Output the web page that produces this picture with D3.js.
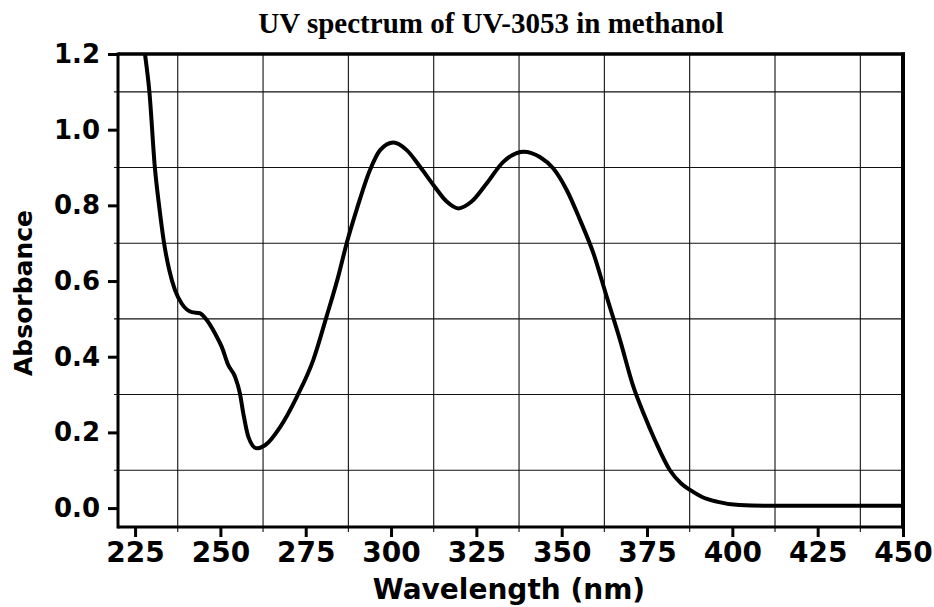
<!DOCTYPE html>
<html>
<head>
<meta charset="utf-8">
<script src="https://cdn.jsdelivr.net/npm/d3@7"></script>
<style>
  html, body { margin: 0; padding: 0; background: #fff; }
  svg { display: block; }
</style>
</head>
<body>
<svg id="chart" width="934" height="607"></svg>
<script>
// ---- data ----
const wavelength = [227.6, 227.9, 229.2, 230.8, 232.1, 233.5, 235.0, 236.7, 238.7, 241.6, 244.0, 246.0, 248.4, 250.4, 252.3, 254.3, 255.7, 256.7, 258.2, 260.6, 263.1, 267.5, 272.4, 277.2, 281.1, 284.5, 287.0, 289.9, 293.8, 296.8, 300.7, 304.6, 308.5, 312.4, 316.3, 319.7, 323.6, 328.0, 332.9, 338.8, 343.6, 347.5, 351.5, 355.4, 359.3, 363.2, 367.1, 371.0, 374.0, 377.3, 381.7, 385.0, 387.6, 391.0, 395.4, 402.0, 410.0, 450.0];
const absorbance = [1.22, 1.20, 1.10, 0.90, 0.795, 0.70, 0.63, 0.576, 0.54, 0.518, 0.515, 0.497, 0.462, 0.426, 0.378, 0.347, 0.304, 0.251, 0.188, 0.158, 0.166, 0.214, 0.294, 0.391, 0.506, 0.611, 0.70, 0.788, 0.893, 0.946, 0.966, 0.946, 0.902, 0.854, 0.810, 0.792, 0.810, 0.858, 0.915, 0.942, 0.928, 0.898, 0.840, 0.761, 0.673, 0.558, 0.444, 0.321, 0.25, 0.18, 0.10, 0.065, 0.048, 0.03, 0.017, 0.008, 0.006, 0.006];
const xTicks = [225, 250, 275, 300, 325, 350, 375, 400, 425, 450];
const xGrid = [237.5, 262.5, 287.5, 312.5, 337.5, 362.5, 387.5, 412.5, 437.5];
const yTicks = [0.0, 0.2, 0.4, 0.6, 0.8, 1.0, 1.2];
const yGrid = [0.1, 0.3, 0.5, 0.7, 0.9, 1.1];
const titleText = "UV spectrum of UV-3053 in methanol";
const xLabel = "Wavelength (nm)";
const yLabel = "Absorbance";

// ---- layout ----
const L = 118, R = 903, T = 54, B = 527;
const svg = d3.select("#chart");
const x = d3.scaleLinear().domain([220, 450]).range([L, R]);
const y = d3.scaleLinear().domain([-0.05, 1.2]).range([B, T]);
const sans = "'DejaVu Sans', sans-serif";

// grid
svg.append("g").selectAll("line").data(xGrid).join("line")
  .attr("x1", d => x(d)).attr("x2", d => x(d))
  .attr("y1", T).attr("y2", B + 5)
  .attr("stroke", "#111").attr("stroke-width", 1.1);
svg.append("g").selectAll("line").data(yGrid).join("line")
  .attr("x1", L - 4).attr("x2", R)
  .attr("y1", d => y(d)).attr("y2", d => y(d))
  .attr("stroke", "#111").attr("stroke-width", 1.1);

// axes
const xAxis = d3.axisBottom(x).tickValues(xTicks).tickSize(10).tickPadding(8).tickFormat(d3.format("d"));
const gx = svg.append("g").attr("transform", `translate(0,${B})`).call(xAxis);
gx.select(".domain").remove();
gx.selectAll(".tick line").attr("stroke", "#000").attr("stroke-width", 3);
gx.selectAll(".tick text").attr("font-family", sans).attr("font-weight", "bold")
  .attr("font-size", 28).attr("fill", "#000").attr("dy", "0.62em");

const yAxis = d3.axisLeft(y).tickValues(yTicks).tickSize(10).tickPadding(8).tickFormat(d3.format(".1f"));
const gy = svg.append("g").attr("transform", `translate(${L},0)`).call(yAxis);
gy.select(".domain").remove();
gy.selectAll(".tick line").attr("stroke", "#000").attr("stroke-width", 3);
gy.selectAll(".tick text").attr("font-family", sans).attr("font-weight", "bold")
  .attr("font-size", 26).attr("fill", "#000");

// frame
svg.append("line").attr("x1", L).attr("x2", L).attr("y1", T - 1.5).attr("y2", B + 1.5).attr("stroke", "#000").attr("stroke-width", 3);
svg.append("line").attr("x1", L).attr("x2", R + 2).attr("y1", B).attr("y2", B).attr("stroke", "#000").attr("stroke-width", 3);
svg.append("line").attr("x1", L).attr("x2", R + 2).attr("y1", T).attr("y2", T).attr("stroke", "#000").attr("stroke-width", 3.5);
svg.append("line").attr("x1", R).attr("x2", R).attr("y1", T - 1.5).attr("y2", B + 1.5).attr("stroke", "#000").attr("stroke-width", 4);

// curve
svg.append("clipPath").attr("id", "clip").append("rect")
  .attr("x", L).attr("y", T).attr("width", R - L).attr("height", B - T);
const pts = wavelength.map((w, i) => [w, absorbance[i]]);
const line = d3.line().x(d => x(d[0])).y(d => y(d[1])).curve(d3.curveMonotoneX);
svg.append("path").datum(pts).attr("clip-path", "url(#clip)")
  .attr("d", line).attr("fill", "none").attr("stroke", "#000")
  .attr("stroke-width", 4).attr("stroke-linejoin", "round").attr("stroke-linecap", "round");

// title & labels
svg.append("text").attr("x", 491).attr("y", 33).attr("text-anchor", "middle")
  .attr("font-family", "'Liberation Serif', 'Times New Roman', serif").attr("font-weight", "bold")
  .attr("font-size", 29).attr("fill", "#000").text(titleText);
svg.append("text").attr("x", 509).attr("y", 599).attr("text-anchor", "middle")
  .attr("font-family", sans).attr("font-weight", "bold").attr("font-size", 28)
  .attr("fill", "#000").text(xLabel);
svg.append("text").attr("transform", "translate(32,293) rotate(-90)").attr("text-anchor", "middle")
  .attr("font-family", sans).attr("font-weight", "bold").attr("font-size", 25)
  .attr("fill", "#000").text(yLabel);
</script>
</body>
</html>
